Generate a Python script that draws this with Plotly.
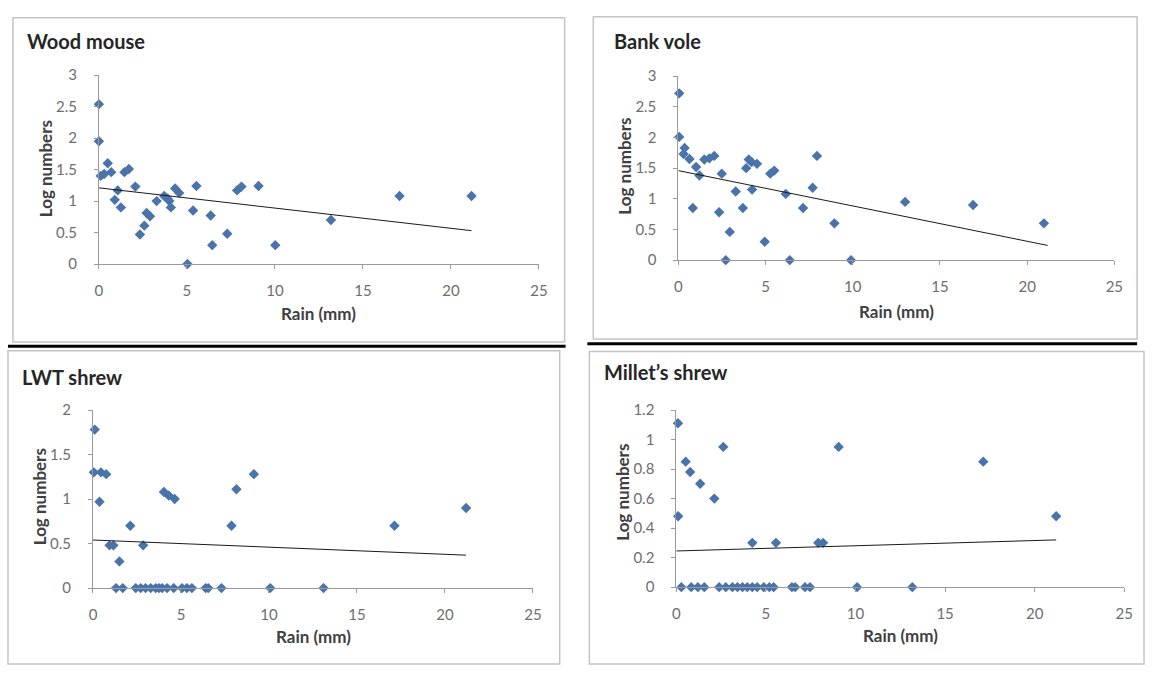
import plotly.graph_objects as go

# ---------------- data ----------------
wm_rain = [0.0, 0.0, 0.1, 0.3, 0.5, 0.7, 0.9, 1.07, 1.25, 1.45, 1.7, 2.07, 2.33, 2.58, 2.71, 2.9,
           3.28, 3.71, 3.9, 4.0, 4.09, 4.33, 4.56, 5.03, 5.35, 5.54, 6.35, 6.44, 7.29, 7.85, 8.1,
           9.07, 10.02, 13.18, 17.08, 21.17]
wm_log = [2.54, 1.95, 1.40, 1.43, 1.60, 1.46, 1.02, 1.17, 0.90, 1.46, 1.51, 1.23, 0.47, 0.61, 0.81, 0.76,
          1.00, 1.08, 1.04, 1.00, 0.90, 1.20, 1.13, 0.0, 0.85, 1.24, 0.77, 0.30, 0.48, 1.17, 1.23,
          1.24, 0.30, 0.70, 1.08, 1.08]
wm_trend_x = [0.0, 21.17]
wm_trend_y = [1.21, 0.53]

bv_rain = [0.05, 0.05, 0.3, 0.36, 0.64, 0.83, 1.02, 1.21, 1.49, 1.78, 2.06, 2.34, 2.49, 2.72, 2.95,
           3.29, 3.7, 3.89, 4.04, 4.2, 4.23, 4.51, 4.95, 5.27, 5.5, 6.16, 6.39, 7.15, 7.7, 7.95,
           8.95, 9.9, 13.0, 16.9, 20.96]
bv_log = [2.72, 2.01, 1.73, 1.83, 1.65, 0.85, 1.52, 1.38, 1.64, 1.66, 1.70, 0.78, 1.41, 0.0, 0.46,
          1.12, 0.85, 1.50, 1.64, 1.60, 1.15, 1.57, 0.30, 1.41, 1.46, 1.08, 0.0, 0.85, 1.18, 1.70,
          0.60, 0.0, 0.95, 0.90, 0.60]
bv_trend_x = [0.0, 21.17]
bv_trend_y = [1.46, 0.24]

lwt_rain = [0.1, 0.05, 0.37, 0.45, 0.75, 0.94, 1.16, 1.5, 2.12, 2.85, 4.03, 4.3, 4.64, 7.87, 8.15,
            9.14, 17.13, 21.2,
            1.31, 1.69, 2.43, 2.71, 2.99, 3.28, 3.56, 3.75, 3.93, 4.21, 4.59, 5.06, 5.34, 5.62,
            6.4, 6.55, 7.3, 10.07, 13.1]
lwt_log = [1.78, 1.30, 0.97, 1.30, 1.28, 0.48, 0.48, 0.30, 0.70, 0.48, 1.08, 1.04, 1.00, 0.70, 1.11,
           1.28, 0.70, 0.90,
           0, 0, 0, 0, 0, 0, 0, 0, 0, 0, 0, 0, 0, 0,
           0, 0, 0, 0, 0]
lwt_trend_x = [0.0, 21.2]
lwt_trend_y = [0.54, 0.37]

ms_rain = [0.09, 0.1, 0.52, 0.77, 1.33, 2.12, 2.62, 9.06, 4.24, 5.56, 7.92, 8.19, 17.13, 21.2,
           0.28, 0.83, 1.2, 1.56, 2.39, 2.76, 3.13, 3.41, 3.69, 3.96, 4.24, 4.51, 4.88, 5.19,
           5.43, 6.45, 6.63, 7.18, 7.46, 10.09, 13.17]
ms_log = [1.11, 0.48, 0.85, 0.78, 0.70, 0.60, 0.95, 0.95, 0.30, 0.30, 0.30, 0.30, 0.85, 0.48,
          0, 0, 0, 0, 0, 0, 0, 0, 0, 0, 0, 0, 0, 0,
          0, 0, 0, 0, 0, 0, 0]
ms_trend_x = [0.0, 21.2]
ms_trend_y = [0.245, 0.32]

titles = ["Wood mouse", "Bank vole", "LWT shrew", "Millet\u2019s shrew"]
x_label = "Rain (mm)"
y_label = "Log numbers"

# ---------------- layout helpers ----------------
W, H = 1156, 673


def px(x):
    return x / W


def py(y):
    return 1 - y / H


panels = [
    dict(rain=wm_rain, log=wm_log, tx=wm_trend_x, ty=wm_trend_y,
         xl=96, xr=541, yb=261, yt=67, ymax=3, dtick=0.5,
         box=(9, 8, 567, 341), title=(21, 32), ylab=(42, 163), xlab=(318, 312)),
    dict(rain=bv_rain, log=bv_log, tx=bv_trend_x, ty=bv_trend_y,
         xl=682, xr=1123, yb=257, yt=68, ymax=3, dtick=0.5,
         box=(596, 7, 1146, 338), title=(615, 32), ylab=(628, 160), xlab=(903, 310)),
    dict(rain=lwt_rain, log=lwt_log, tx=lwt_trend_x, ty=lwt_trend_y,
         xl=90, xr=535, yb=594, yt=411, ymax=2, dtick=0.5,
         box=(4, 350, 562, 672), title=(16, 377), ylab=(36, 500), xlab=(313, 644)),
    dict(rain=ms_rain, log=ms_log, tx=ms_trend_x, ty=ms_trend_y,
         xl=680, xr=1133, yb=593, yt=411, ymax=1.2, dtick=0.2,
         box=(592, 351, 1153, 672), title=(605, 372), ylab=(626, 495), xlab=(907, 643)),
]

fig = go.Figure()
shapes = []
annotations = []
FONT = "Lato, 'Open Sans', Arial, sans-serif"
marker_color = "#4a73aa"

for i, p in enumerate(panels):
    n = "" if i == 0 else str(i + 1)
    xa, ya = "x" + n, "y" + n
    fig.add_trace(go.Scatter(
        x=p["rain"], y=p["log"], mode="markers", xaxis=xa, yaxis=ya,
        marker=dict(symbol="diamond", size=8, color=marker_color, line=dict(width=0)),
        cliponaxis=False, showlegend=False))
    fig.add_trace(go.Scatter(
        x=p["tx"], y=p["ty"], mode="lines", xaxis=xa, yaxis=ya,
        line=dict(color="#1a1a1a", width=1), cliponaxis=False, showlegend=False))

    axis_common = dict(showgrid=False, zeroline=False, showline=True, linecolor="#9a9a9a",
                       linewidth=1, ticks="outside", ticklen=4, tickcolor="#9a9a9a",
                       tickfont=dict(family=FONT, size=15, color="#6e6e6e"))
    fig.layout["xaxis" + n] = dict(
        domain=[px(p["xl"]), px(p["xr"])], range=[0, 25], tick0=0, dtick=5,
        anchor=ya, ticklabelstandoff=9, **axis_common)
    fig.layout["yaxis" + n] = dict(
        domain=[py(p["yb"]), py(p["yt"])], range=[0, p["ymax"]], tick0=0, dtick=p["dtick"],
        anchor=xa, ticklabelstandoff=14, **axis_common)

    bx0, by0, bx1, by1 = p["box"]
    shapes.append(dict(type="rect", xref="paper", yref="paper",
                       x0=px(bx0), x1=px(bx1), y0=py(by1), y1=py(by0),
                       line=dict(color="#c4c4c4", width=1.5), layer="below"))
    annotations.append(dict(text="<b>" + titles[i] + "</b>", xref="paper", yref="paper",
                            x=px(p["title"][0]), y=py(p["title"][1]), xanchor="left",
                            yanchor="middle", showarrow=False,
                            font=dict(family=FONT, size=20, color="#262626")))
    annotations.append(dict(text="<b>" + y_label + "</b>", xref="paper", yref="paper",
                            x=px(p["ylab"][0]), y=py(p["ylab"][1]), xanchor="center",
                            yanchor="middle", textangle=-90, showarrow=False,
                            font=dict(family=FONT, size=17, color="#404040")))
    annotations.append(dict(text="<b>" + x_label + "</b>", xref="paper", yref="paper",
                            x=px(p["xlab"][0]), y=py(p["xlab"][1]), xanchor="center",
                            yanchor="middle", showarrow=False,
                            font=dict(family=FONT, size=17, color="#404040")))

# thick black separator lines
shapes.append(dict(type="line", xref="paper", yref="paper", x0=px(4), x1=px(568),
                   y0=py(345.5), y1=py(345.5), line=dict(color="black", width=3)))
shapes.append(dict(type="line", xref="paper", yref="paper", x0=px(590), x1=px(1146),
                   y0=py(343), y1=py(343), line=dict(color="black", width=3)))

fig.update_layout(width=W, height=H, margin=dict(l=0, r=0, t=0, b=0),
                  paper_bgcolor="white", plot_bgcolor="rgba(0,0,0,0)",
                  shapes=shapes, annotations=annotations, showlegend=False)

fig.write_html("out.html", config={"displayModeBar": False},
               post_script="document.body.style.margin='0px';document.body.style.overflow='hidden';")

# make sure the page has no default body margin before rendering
with open("out.html", "r", encoding="utf-8") as fh:
    html = fh.read()
html = html.replace("<head>", "<head><style>html,body{margin:0;padding:0;overflow:hidden;}</style>", 1)
with open("out.html", "w", encoding="utf-8") as fh:
    fh.write(html)
